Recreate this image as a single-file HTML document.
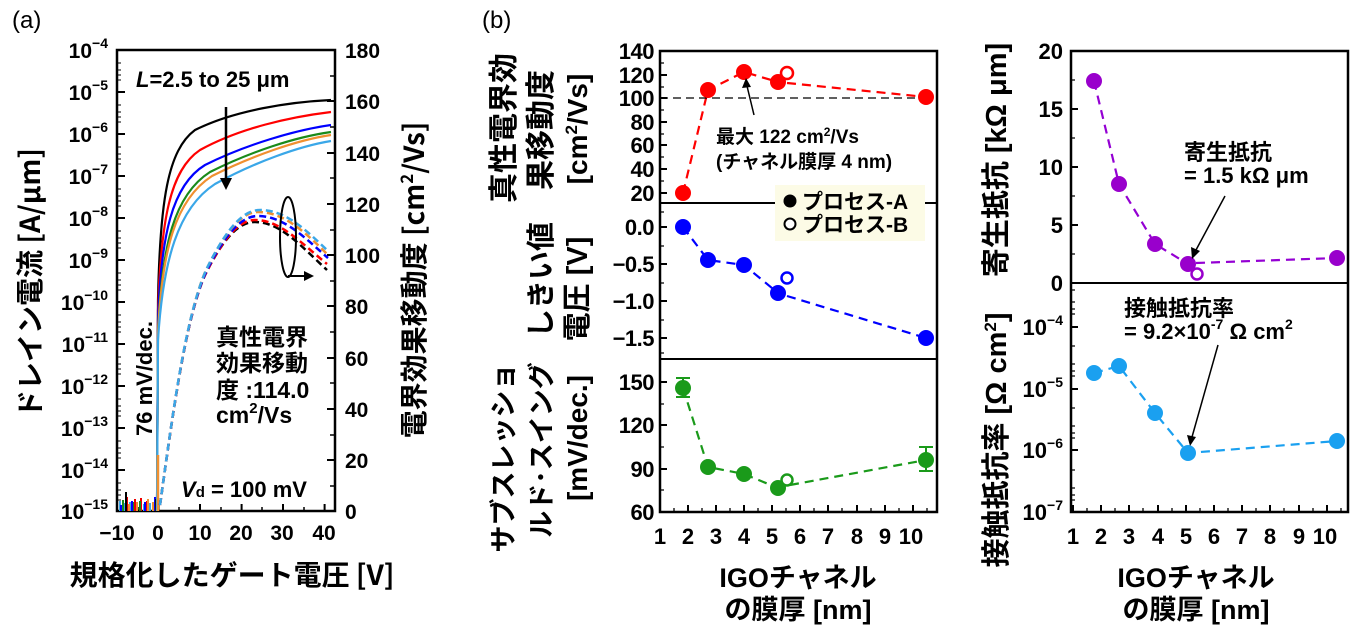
<!DOCTYPE html>
<html><head><meta charset="utf-8"><style>
html,body{margin:0;padding:0;background:#fff}
svg{display:block}
text{font-family:"Liberation Sans","Noto Sans CJK JP",sans-serif;font-weight:bold;fill:#000}
.j{font-family:"Noto Sans CJK JP","Liberation Sans",sans-serif;font-weight:bold}
.n{font-weight:normal}
</style></head><body>
<svg width="1353" height="636" viewBox="0 0 1353 636" xmlns="http://www.w3.org/2000/svg">
<!-- ========== Panel (a) ========== -->
<text x="12" y="28" font-size="24" class="n">(a)</text>
<rect x="117" y="50" width="218" height="461" fill="none" stroke="#000" stroke-width="2.5"/>
<g stroke="#000" stroke-width="2">
<path d="M117,50h8M117,92h8M117,134h8M117,176h8M117,218h8M117,260h8M117,302h8M117,344h8M117,386h8M117,428h8M117,470h8M117,511h8"/>
<path stroke-width="1" d="M117,63h4M117,70h4M117,75h4M117,80h4M117,105h4M117,112h4M117,117h4M117,122h4M117,147h4M117,154h4M117,159h4M117,164h4M117,189h4M117,196h4M117,201h4M117,206h4M117,231h4M117,238h4M117,243h4M117,248h4M117,273h4M117,280h4M117,285h4M117,290h4M117,315h4M117,322h4M117,327h4M117,332h4M117,357h4M117,364h4M117,369h4M117,374h4M117,399h4M117,406h4M117,411h4M117,416h4M117,441h4M117,448h4M117,453h4M117,458h4M117,483h4M117,490h4M117,495h4M117,500h4"/>
<path d="M335,50h-8M335,101h-8M335,153h-8M335,204h-8M335,255h-8M335,306h-8M335,358h-8M335,409h-8M335,460h-8"/>
<path stroke-width="1.5" d="M335,76h-5M335,127h-5M335,178h-5M335,230h-5M335,281h-5M335,332h-5M335,383h-5M335,435h-5M335,486h-5"/>
<path d="M117,511v-7M158.6,511v-7M200,511v-7M241.6,511v-7M283,511v-7M324.6,511v-7"/>
<path stroke-width="1.5" d="M138,511v-4M179,511v-4M221,511v-4M262,511v-4M304,511v-4"/>
</g>
<g font-size="21" text-anchor="end">
<text x="108" y="58">10<tspan font-size="14" dy="-10">−4</tspan></text>
<text x="108" y="100">10<tspan font-size="14" dy="-10">−5</tspan></text>
<text x="108" y="142">10<tspan font-size="14" dy="-10">−6</tspan></text>
<text x="108" y="184">10<tspan font-size="14" dy="-10">−7</tspan></text>
<text x="108" y="226">10<tspan font-size="14" dy="-10">−8</tspan></text>
<text x="108" y="268">10<tspan font-size="14" dy="-10">−9</tspan></text>
<text x="108" y="310">10<tspan font-size="14" dy="-10">−10</tspan></text>
<text x="108" y="352">10<tspan font-size="14" dy="-10">−11</tspan></text>
<text x="108" y="394">10<tspan font-size="14" dy="-10">−12</tspan></text>
<text x="108" y="436">10<tspan font-size="14" dy="-10">−13</tspan></text>
<text x="108" y="478">10<tspan font-size="14" dy="-10">−14</tspan></text>
<text x="108" y="519">10<tspan font-size="14" dy="-10">−15</tspan></text>
</g>
<g font-size="21">
<text x="345" y="58">180</text><text x="345" y="109">160</text><text x="345" y="161">140</text><text x="345" y="212">120</text><text x="345" y="263">100</text><text x="345" y="314">80</text><text x="345" y="366">60</text><text x="345" y="417">40</text><text x="345" y="468">20</text><text x="345" y="519">0</text>
</g>
<g font-size="21" text-anchor="middle">
<text x="117" y="540">−10</text><text x="158" y="540">0</text><text x="200" y="540">10</text><text x="241" y="540">20</text><text x="282" y="540">30</text><text x="324" y="540">40</text>
</g>
<text x="232" y="585" font-size="28" text-anchor="middle" class="j">規格化したゲート電圧 [V]</text>
<text transform="translate(40,283) rotate(-90)" font-size="28" text-anchor="middle" class="j">ドレイン電流 [A/μm]</text>
<text transform="translate(424,280) rotate(-90)" font-size="28" text-anchor="middle" class="j">電界効果移動度 [cm<tspan font-size="17" dy="-11">2</tspan><tspan dy="11">/Vs]</tspan></text>
<g stroke-width="2">
<path stroke="#3aa7e8" d="M120,511v-10M124,511v-8M130,511v-9M144,511v-7M150,511v-8"/>
<path stroke="#e00" d="M127,511v-14M135,511v-12M141,511v-13M147,511v-10"/>
<path stroke="#1a8a1a" d="M123,511v-11M133,511v-9M140,511v-10"/>
<path stroke="#f09030" d="M129,511v-7M137,511v-9M148,511v-12M153,511v-9"/>
<path stroke="#00f" d="M121,511v-6M132,511v-10M145,511v-9M155,511v-14"/>
<path stroke="#000" d="M126,511v-19M156,511v-12"/>
</g>
<g fill="none" stroke-width="2.2">
<path stroke="#000" d="M157,511 L158,300 C160,200 168,150 195,130 C235,110 290,102 331,100"/>
<path stroke="#f00" d="M157,511 L158,310 C161,220 170,170 200,150 C240,128 290,117 331,112"/>
<path stroke="#00f" d="M157,511 L158,320 C161,235 172,185 205,165 C245,145 295,130 331,125"/>
<path stroke="#1a8a1a" d="M157,511 L158,330 C162,245 174,195 210,172 C250,152 295,137 331,132"/>
<path stroke="#f09030" d="M157,511 L158,333 C162,250 175,200 212,176 C252,156 297,140 331,135"/>
<path stroke="#3aa7e8" d="M157,511 L158,340 C163,260 178,208 215,184 C255,162 300,146 331,141"/>
</g>
<path d="M158,511 V455" stroke="#f09030" stroke-width="2.5"/>
<g fill="none" stroke-width="2.5" stroke-dasharray="7,4">
<path stroke="#000" d="M160,505 C172,420 185,320 205,275 C225,235 240,222 255,222 C280,222 300,245 327,270"/>
<path stroke="#f00" d="M160,505 C172,420 185,320 205,275 C225,235 240,220 255,220 C280,220 300,242 327,264"/>
<path stroke="#00f" d="M160,505 C172,420 185,318 206,272 C226,232 242,216 258,216 C284,216 305,238 328,258"/>
<path stroke="#f09030" d="M160,505 C172,420 185,318 206,270 C226,230 242,212 258,212 C284,212 305,232 328,255"/>
<path stroke="#3aa7e8" d="M160,505 C172,420 185,316 207,268 C227,228 243,210 260,210 C286,210 306,230 329,252"/>
</g>
<path d="M226,107V180" stroke="#000" stroke-width="2.5"/>
<path d="M220,178 L226,190 L232,178Z" fill="#000"/>
<ellipse cx="288" cy="237" rx="8" ry="40" fill="none" stroke="#000" stroke-width="2"/>
<path d="M288,276H306" stroke="#000" stroke-width="2"/>
<path d="M304,271 L314,276 L304,281Z" fill="#000"/>
<text x="136" y="87" font-size="22"><tspan font-style="italic">L</tspan>=2.5 to 25 μm</text>
<text transform="translate(152,436) rotate(-90)" font-size="22">76 mV/dec.</text>
<g font-size="23" class="j"><text x="216" y="345">真性電界</text><text x="216" y="371">効果移動</text><text x="216" y="398">度 :114.0</text><text x="216" y="423" font-family="Liberation Sans">cm<tspan font-size="15" dy="-10">2</tspan><tspan dy="10">/Vs</tspan></text></g>
<text x="181" y="497" font-size="22"><tspan font-style="italic">V</tspan><tspan font-size="15">d</tspan> = 100 mV</text>

<!-- ========== Panel (b) middle ========== -->
<text x="482" y="28" font-size="24" class="n">(b)</text>
<rect x="660" y="51" width="277" height="461" fill="none" stroke="#000" stroke-width="2.5"/>
<path d="M660,203H775M925,203H937M660,359H937" stroke="#000" stroke-width="2"/>
<g stroke="#000" stroke-width="2">
<path d="M660,51h7M660,75h7M660,98h7M660,122h7M660,145h7M660,169h7M660,193h7"/>
<path stroke-width="1.3" d="M660,63h4M660,87h4M660,110h4M660,134h4M660,157h4M660,181h4"/>
<path d="M660,227h7M660,264h7M660,301h7M660,338h7"/>
<path stroke-width="1.3" d="M660,212h4M660,246h4M660,283h4M660,320h4M660,353h4"/>
<path d="M660,382h7M660,425h7M660,469h7M660,512h7"/>
<path stroke-width="1.3" d="M660,404h4M660,447h4M660,490h4"/>
<path d="M660,512v-7M688,512v-7M716,512v-7M744,512v-7M772,512v-7M800,512v-7M828,512v-7M857,512v-7M885,512v-7M913,512v-7"/>
<path stroke-width="1.3" d="M674,512v-4M702,512v-4M730,512v-4M758,512v-4M786,512v-4M814,512v-4M842,512v-4M871,512v-4M899,512v-4M927,512v-4"/>
</g>
<g font-size="22" text-anchor="end" letter-spacing="-0.5">
<text x="654" y="59">140</text><text x="654" y="83">120</text><text x="654" y="106">100</text><text x="654" y="130">80</text><text x="654" y="153">60</text><text x="654" y="177">40</text><text x="654" y="201">20</text>
<text x="654" y="235">0.0</text><text x="654" y="272">−0.5</text><text x="654" y="309">−1.0</text><text x="654" y="346">−1.5</text>
<text x="654" y="390">150</text><text x="654" y="433">120</text><text x="654" y="477">90</text><text x="654" y="520">60</text>
</g>
<g font-size="22" text-anchor="middle">
<text x="660" y="544">1</text><text x="688" y="544">2</text><text x="716" y="544">3</text><text x="744" y="544">4</text><text x="772" y="544">5</text><text x="800" y="544">6</text><text x="828" y="544">7</text><text x="857" y="544">8</text><text x="885" y="544">9</text><text x="911" y="544">10</text>
</g>
<g font-size="27" text-anchor="middle" class="j">
<text x="798" y="587">IGOチャネル</text><text x="798" y="619">の膜厚  [nm]</text>
<text transform="translate(514,128) rotate(-90)" font-size="30">真性電界効</text>
<text transform="translate(551,130) rotate(-90)" font-size="30">果移動度</text>
<text transform="translate(587,129) rotate(-90)" font-family="Liberation Sans" font-size="28">[cm<tspan font-size="17" dy="-10">2</tspan><tspan dy="10">/Vs]</tspan></text>
<text transform="translate(551,280) rotate(-90)" font-size="29">しきい値</text>
<text transform="translate(587,289) rotate(-90)" font-size="29">電圧 [V]</text>
<text transform="translate(513,458) rotate(-90)">サブスレッショ</text>
<text transform="translate(551,450) rotate(-90)">ルド･スイング</text>
<text transform="translate(587,438) rotate(-90)" font-family="Liberation Sans" font-size="28">[mV/dec.]</text>
</g>
<path d="M683,193 L708,90 L744,72 L778,82 L787,73 M787,83 L926,97" fill="none" stroke="#f00" stroke-width="2.2" stroke-dasharray="9,6"/>
<path d="M660,98H926" stroke="#000" stroke-width="1.3" stroke-dasharray="8,5"/>
<g fill="#f00"><circle cx="683" cy="193" r="8"/><circle cx="708" cy="90" r="8"/><circle cx="744" cy="72" r="8"/><circle cx="778" cy="82" r="8"/><circle cx="926" cy="97" r="8"/></g>
<circle cx="787" cy="73" r="6" fill="#fff" stroke="#f00" stroke-width="2.5"/>
<path d="M754,115 L747,86" stroke="#000" stroke-width="1.5"/><path d="M742,88 L746,78 L751,87Z" fill="#000"/>
<g font-size="19" class="j"><text x="716" y="143">最大 122 cm<tspan font-size="12" dy="-7">2</tspan><tspan dy="7">/Vs</tspan></text><text x="716" y="168">(チャネル膜厚 4 nm)</text></g>
<rect x="775" y="185" width="150" height="56" fill="#fcfbe6"/>
<circle cx="790" cy="201" r="6.5" fill="#000"/>
<circle cx="790" cy="224" r="5.5" fill="#fff" stroke="#000" stroke-width="2"/>
<g font-size="21" class="j"><text x="802" y="209">プロセス-A</text><text x="802" y="232">プロセス-B</text></g>
<path d="M683,227 L708,260 L744,265 L778,293 M787,296 L926,338" fill="none" stroke="#00f" stroke-width="2.2" stroke-dasharray="9,6"/>
<g fill="#00f"><circle cx="683" cy="227" r="8"/><circle cx="708" cy="260" r="8"/><circle cx="744" cy="265" r="8"/><circle cx="778" cy="293" r="8"/><circle cx="926" cy="338" r="8"/></g>
<circle cx="787" cy="278" r="5.5" fill="#fff" stroke="#00f" stroke-width="2.5"/>
<path d="M683,388 L708,467 L744,474 L778,488 M790,485 L926,460" fill="none" stroke="#1a9a1a" stroke-width="2.2" stroke-dasharray="9,6"/>
<g stroke="#1a9a1a" stroke-width="2"><path d="M683,378V397M676,378h14M676,397h14M926,447V471M919,447h14M919,471h14"/></g>
<g fill="#1a9a1a"><circle cx="683" cy="388" r="8"/><circle cx="708" cy="467" r="8"/><circle cx="744" cy="474" r="8"/><circle cx="778" cy="488" r="8"/><circle cx="926" cy="460" r="8"/></g>
<circle cx="787" cy="480" r="5.5" fill="#fff" stroke="#1a9a1a" stroke-width="2.5"/>

<!-- ========== Panel (b) right ========== -->
<rect x="1071" y="51" width="277" height="461" fill="none" stroke="#000" stroke-width="2.5"/>
<path d="M1071,283H1348" stroke="#000" stroke-width="2"/>
<g stroke="#000" stroke-width="2">
<path d="M1071,51h7M1071,109h7M1071,167h7M1071,225h7M1071,283h7"/>
<path stroke-width="1.3" d="M1071,80h4M1071,138h4M1071,196h4M1071,254h4"/>
<path d="M1071,327h7M1071,389h7M1071,450h7M1071,512h7"/>
<path stroke-width="1.3" d="M1071,290h4M1071,302h4M1071,309h4M1071,314h4M1071,346h4M1071,364h4M1071,371h4M1071,376h4M1071,408h4M1071,426h4M1071,433h4M1071,438h4M1071,470h4M1071,488h4M1071,495h4M1071,500h4"/>
<path d="M1073,512v-7M1101,512v-7M1129,512v-7M1158,512v-7M1186,512v-7M1214,512v-7M1242,512v-7M1270,512v-7M1299,512v-7M1327,512v-7"/>
<path stroke-width="1.3" d="M1087,512v-4M1115,512v-4M1143,512v-4M1172,512v-4M1200,512v-4M1228,512v-4M1256,512v-4M1284,512v-4M1313,512v-4M1341,512v-4"/>
</g>
<g font-size="22" text-anchor="end">
<text x="1063" y="59">20</text><text x="1063" y="117">15</text><text x="1063" y="175">10</text><text x="1063" y="233">5</text><text x="1063" y="291">0</text>
<text x="1063" y="335">10<tspan font-size="14" dy="-10">−4</tspan></text>
<text x="1063" y="397">10<tspan font-size="14" dy="-10">−5</tspan></text>
<text x="1063" y="458">10<tspan font-size="14" dy="-10">−6</tspan></text>
<text x="1063" y="520">10<tspan font-size="14" dy="-10">−7</tspan></text>
</g>
<g font-size="22" text-anchor="middle">
<text x="1073" y="544">1</text><text x="1101" y="544">2</text><text x="1129" y="544">3</text><text x="1158" y="544">4</text><text x="1186" y="544">5</text><text x="1214" y="544">6</text><text x="1242" y="544">7</text><text x="1270" y="544">8</text><text x="1299" y="544">9</text><text x="1325" y="544">10</text>
</g>
<g font-size="27" text-anchor="middle" class="j">
<text x="1196" y="587">IGOチャネル</text><text x="1196" y="619">の膜厚  [nm]</text>
<text transform="translate(1006,160) rotate(-90)" font-size="29">寄生抵抗 [kΩ μm]</text>
<text transform="translate(1006,440) rotate(-90)" font-size="29">接触抵抗率 [Ω cm<tspan font-size="17" dy="-10">2</tspan><tspan dy="10">]</tspan></text>
</g>
<path d="M1094,81 L1119,184 L1155,244 L1188,264 M1196,263 L1337,258" fill="none" stroke="#9400d3" stroke-width="2.2" stroke-dasharray="9,6"/>
<g fill="#9900cc"><circle cx="1094" cy="81" r="8"/><circle cx="1119" cy="184" r="8"/><circle cx="1155" cy="244" r="8"/><circle cx="1188" cy="264" r="8"/><circle cx="1337" cy="258" r="8"/></g>
<circle cx="1197" cy="274" r="5.5" fill="#fff" stroke="#9900cc" stroke-width="2.5"/>
<path d="M1225,196 L1196,250" stroke="#000" stroke-width="1.5"/><path d="M1191,247 L1192,259 L1200,251Z" fill="#000"/>
<g font-size="22" class="j"><text x="1184" y="160">寄生抵抗</text><text x="1184" y="183" font-family="Liberation Sans">= 1.5 kΩ μm</text></g>
<path d="M1094,373 L1119,366 L1155,413 L1188,453 L1337,441" fill="none" stroke="#1aa0f0" stroke-width="2.2" stroke-dasharray="9,6"/>
<g fill="#1aa0f0"><circle cx="1094" cy="373" r="8"/><circle cx="1119" cy="366" r="8"/><circle cx="1155" cy="413" r="8"/><circle cx="1188" cy="453" r="8"/><circle cx="1337" cy="441" r="8"/></g>
<path d="M1218,345 L1192,437" stroke="#000" stroke-width="1.5"/><path d="M1187,435 L1190,446 L1196,437Z" fill="#000"/>
<g font-size="22" class="j"><text x="1124" y="316">接触抵抗率</text><text x="1124" y="339" font-family="Liberation Sans">= 9.2×10<tspan font-size="14" dy="-10">-7</tspan><tspan dy="10"> Ω cm</tspan><tspan font-size="14" dy="-10">2</tspan></text></g>
</svg>
</body></html>
